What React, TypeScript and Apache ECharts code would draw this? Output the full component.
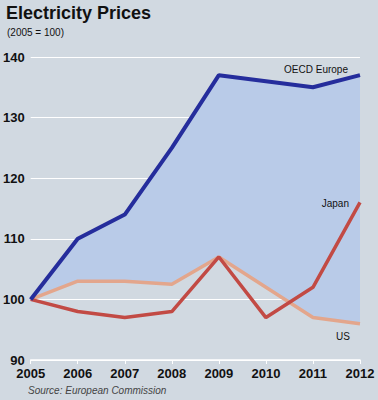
import React, { useEffect, useRef } from "react";
import * as echarts from "echarts";

const years = ["2005", "2006", "2007", "2008", "2009", "2010", "2011", "2012"];
const oecdEurope = [100, 110, 114, 125, 137, 136, 135, 137];
const japan = [100, 98, 97, 98, 107, 97, 102, 116];
const us = [100, 103, 103, 102.5, 107, 102, 97, 96];

const FONT = "'Liberation Sans Narrow', 'Arial Narrow', 'Liberation Sans', sans-serif";

export default function App() {
  const ref = useRef<HTMLDivElement>(null);
  useEffect(() => {
    document.body.style.margin = "0";
    const chart = echarts.init(ref.current!, null, { renderer: "svg" });
    const gap = oecdEurope.map((v, i) => v - us[i]);
    chart.setOption({
      animation: false,
      backgroundColor: "#d1d9e1",
      grid: { left: 30, right: 18, top: 57, bottom: 40 },
      xAxis: {
        type: "category",
        data: years,
        boundaryGap: false,
        axisLine: { lineStyle: { color: "#ffffff", width: 1.5 } },
        axisTick: { show: true, length: 4, lineStyle: { color: "#ffffff" } },
        axisLabel: { color: "#111", fontFamily: FONT, fontWeight: "bold", fontSize: 13, margin: 7 },
      },
      yAxis: {
        type: "value",
        min: 90,
        max: 140,
        interval: 10,
        axisLine: { show: false },
        axisTick: { show: false },
        axisLabel: { color: "#111", fontFamily: FONT, fontWeight: "bold", fontSize: 13, margin: 6 },
        splitLine: { lineStyle: { color: "#ffffff", width: 1 } },
      },
      series: [
        {
          name: "base",
          type: "line",
          stack: "band",
          data: us,
          symbol: "none",
          lineStyle: { opacity: 0 },
          silent: true,
        },
        {
          name: "band",
          type: "line",
          stack: "band",
          data: gap,
          symbol: "none",
          lineStyle: { opacity: 0 },
          areaStyle: { color: "#b9cbe8", opacity: 1 },
          silent: true,
        },
        {
          name: "US",
          type: "line",
          data: us,
          symbol: "none",
          lineStyle: { color: "#e3a68c", width: 3.5 },
        },
        {
          name: "Japan",
          type: "line",
          data: japan,
          symbol: "none",
          lineStyle: { color: "#c24a44", width: 3.5 },
        },
        {
          name: "OECD Europe",
          type: "line",
          data: oecdEurope,
          symbol: "none",
          lineStyle: { color: "#252d9c", width: 4 },
        },
      ],
      graphic: [
        {
          type: "text",
          left: 6,
          top: 4,
          style: { text: "Electricity Prices", font: "bold 18px 'Liberation Sans', Arial, sans-serif", fill: "#111" },
        },
        {
          type: "text",
          left: 7,
          top: 27,
          style: { text: "(2005 = 100)", font: `10px ${FONT}`, fill: "#111" },
        },
        {
          type: "text",
          x: 348,
          y: 69,
          z: 100,
          style: { text: "OECD Europe", font: `10px ${FONT}`, fill: "#111", align: "right", verticalAlign: "middle" },
        },
        {
          type: "text",
          x: 349,
          y: 203,
          z: 100,
          style: { text: "Japan", font: `10px ${FONT}`, fill: "#111", align: "right", verticalAlign: "middle" },
        },
        {
          type: "text",
          x: 350,
          y: 336,
          z: 100,
          style: { text: "US", font: `10px ${FONT}`, fill: "#111", align: "right", verticalAlign: "middle" },
        },
        {
          type: "text",
          left: 28,
          top: 385,
          style: { text: "Source: European Commission", font: "italic 10px 'Liberation Sans', Arial, sans-serif", fill: "#444" },
        },
      ],
    });
    return () => chart.dispose();
  }, []);
  return <div ref={ref} style={{ width: 378, height: 400 }} />;
}
